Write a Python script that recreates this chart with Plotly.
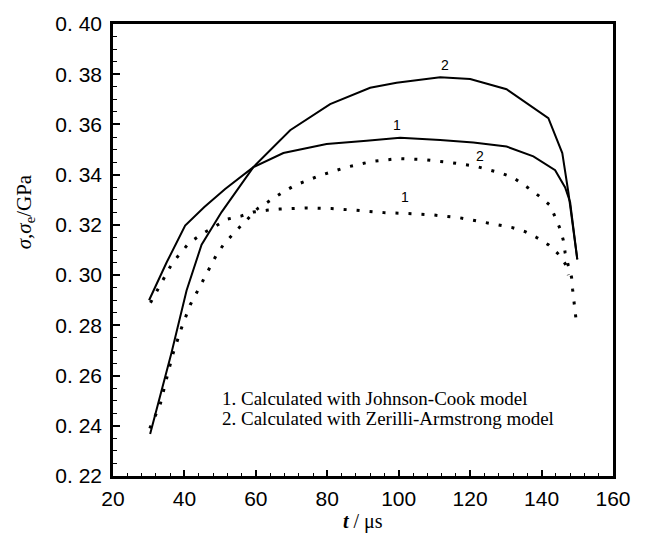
import plotly.graph_objects as go

# ---------------- data ----------------
t_jc_solid = [30.1, 35, 40.2, 45.5, 51.4, 59.3, 67.7, 79.8, 91, 100.4, 111.6, 120.9, 130.2, 137.7, 143.8, 146.6, 148, 150]
v_jc_solid = [0.290, 0.305, 0.3197, 0.327, 0.3343, 0.3430, 0.3486, 0.3522, 0.3535, 0.3547, 0.3538, 0.3528, 0.3512, 0.3473, 0.3418, 0.3349, 0.329, 0.3063]

t_za_solid = [30.4, 33.5, 36.4, 40.6, 44.8, 50.4, 59.3, 69.6, 80.8, 92, 99.4, 111.6, 120, 130.2, 141.9, 145.8, 147.5, 150]
v_za_solid = [0.2367, 0.253, 0.2692, 0.2939, 0.3121, 0.3251, 0.3430, 0.3577, 0.3681, 0.3746, 0.3766, 0.3788, 0.3781, 0.374, 0.3625, 0.3486, 0.333, 0.3063]

t_jc_dot = [30.5, 34.4, 36.4, 38.8, 41.3, 44.8, 48.8, 52.1, 55.8, 59.3, 63, 66.6, 73.8, 81.2, 88.2, 95.7, 102.7, 110, 117.2, 124.6, 131.6, 135.4, 138.6, 141.9, 145, 146.8, 147.5]
v_jc_dot = [0.289, 0.2989, 0.3043, 0.3086, 0.3128, 0.3163, 0.3197, 0.3223, 0.3235, 0.3251, 0.3258, 0.3263, 0.3267, 0.3265, 0.3258, 0.3249, 0.3245, 0.3239, 0.3228, 0.3210, 0.3190, 0.3173, 0.315, 0.3121, 0.308, 0.3041, 0.300]

t_za_dot = [30.3, 33.2, 35, 36.9, 39.2, 41.6, 45.3, 48.8, 50.9, 54, 57.4, 60.5, 64, 67.2, 71, 78, 85.4, 92.7, 99.9, 106.9, 114.2, 121.4, 128.5, 132.1, 135.8, 139.4, 142.4, 143.8, 145.2, 146.1, 146.6, 147.5, 148.4, 148.7, 149.1, 149.5, 149.8]
v_za_dot = [0.239, 0.2484, 0.2588, 0.2692, 0.279, 0.2881, 0.2981, 0.3076, 0.3121, 0.317, 0.3219, 0.3265, 0.3297, 0.3327, 0.3358, 0.3397, 0.343, 0.3453, 0.3464, 0.346, 0.3449, 0.3434, 0.3407, 0.3388, 0.3352, 0.3314, 0.3278, 0.3232, 0.3184, 0.3138, 0.3089, 0.3037, 0.2991, 0.2942, 0.2898, 0.2851, 0.2805]

curve_labels = ["2", "1", "2", "1"]
curve_label_t = [113, 99.4, 122.8, 101.8]
curve_label_v = [0.3837, 0.3597, 0.3476, 0.331]

x_ticks = [20, 40, 60, 80, 100, 120, 140, 160]
y_ticks = [0.22, 0.24, 0.26, 0.28, 0.30, 0.32, 0.34, 0.36, 0.38, 0.40]
y_ticktext = [f"{v:.2f}".replace(".", ". ") for v in y_ticks]

legend_lines = ["1. Calculated with Johnson-Cook model",
                "2. Calculated with Zerilli-Armstrong model"]
legend_t = 50.0
legend_v = [0.2508, 0.2430]

# ---------------- figure ----------------
fig = go.Figure()
solid = dict(color="black", width=2)
dotted = dict(color="black", width=3, dash="3px,10px")
fig.add_trace(go.Scatter(x=t_jc_solid, y=v_jc_solid, mode="lines", line=solid))
fig.add_trace(go.Scatter(x=t_za_solid, y=v_za_solid, mode="lines", line=solid))
fig.add_trace(go.Scatter(x=t_jc_dot, y=v_jc_dot, mode="lines", line=dotted))
fig.add_trace(go.Scatter(x=t_za_dot, y=v_za_dot, mode="lines", line=dotted))

for txt, tx, vy in zip(curve_labels, curve_label_t, curve_label_v):
    fig.add_annotation(x=tx, y=vy, text=txt, showarrow=False,
                       font=dict(family="Liberation Sans", size=14, color="black"))

for txt, vy in zip(legend_lines, legend_v):
    fig.add_annotation(x=legend_t, y=vy, text=txt, showarrow=False,
                       xanchor="left", yanchor="middle",
                       font=dict(family="Liberation Serif", size=19, color="black"))

# axis titles
fig.add_annotation(x=0.5, y=-0.1, xref="paper", yref="paper", yanchor="middle",
                   text="<i><b>t</b></i> / μs", showarrow=False,
                   font=dict(family="Liberation Serif", size=20, color="black"))
fig.add_annotation(x=-0.176, y=0.325, xref="paper", yref="y", textangle=-90,
                   xanchor="center", yanchor="middle",
                   text="<i>σ</i>,<i>σ</i><sub>e</sub>/GPa", showarrow=False,
                   font=dict(family="Liberation Serif", size=21, color="black"))

axis_font = dict(family="Liberation Sans", size=21, color="black")
fig.update_xaxes(range=[20, 160], tickvals=x_ticks, ticks="inside", ticklen=6,
                 tickwidth=1.5, tickcolor="black", showline=True, linewidth=2.5,
                 linecolor="black", mirror=True, showgrid=False, zeroline=False,
                 tickfont=axis_font, ticklabelstandoff=2,
                 minor=dict(tick0=0, dtick=4, ticks="inside", ticklen=3,
                            tickwidth=1, tickcolor="black", showgrid=False))
fig.update_yaxes(range=[0.22, 0.40], tickvals=y_ticks, ticktext=y_ticktext,
                 ticks="inside", ticklen=7, tickwidth=1.5, tickcolor="black",
                 showline=True, linewidth=2.5, linecolor="black", mirror=True,
                 showgrid=False, zeroline=False, tickfont=axis_font,
                 ticklabelstandoff=4,
                 minor=dict(tick0=0, dtick=0.005, ticks="inside", ticklen=4,
                            tickwidth=1, tickcolor="black", showgrid=False))

fig.update_layout(width=646, height=540, showlegend=False,
                  margin=dict(l=113, r=33, t=15, b=64),
                  paper_bgcolor="white", plot_bgcolor="white")

fig.write_html("out.html")
